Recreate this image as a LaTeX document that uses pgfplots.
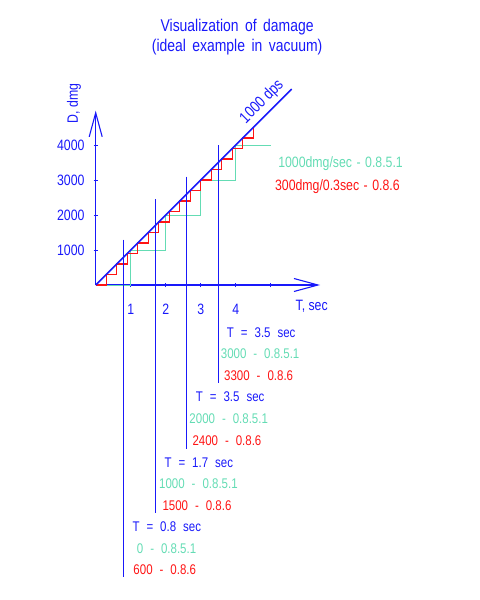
\documentclass[border=0pt]{standalone}
\usepackage{fontspec}
\setmainfont{Liberation Sans}[FakeStretch=0.82]
\usepackage{pgfplots}
\pgfplotsset{compat=1.18}
\usetikzlibrary{arrows.meta}

\definecolor{dblue}{RGB}{25,25,250}
\definecolor{dgreen}{RGB}{100,220,180}
\definecolor{dred}{RGB}{255,20,20}
% wider word spaces, like the drafting font of the original
\newcommand{\wsp}[1]{\spaceskip=#1\relax}

\begin{document}
\begin{tikzpicture}
\begin{axis}[
  x=35bp, y=0.035bp,
  xmin=0, xmax=6.41,
  ymin=0, ymax=4980,
  axis lines=middle,
  axis line style={draw=dblue, line width=1.1bp,
    -{Straight Barb[length=24bp, width=13bp, line width=1.1bp]}},
  clip=false,
  xtick={1,2,3,4,5}, xticklabels={1,2,3,4,},
  ytick={1000,2000,3000,4000}, yticklabels={1000,2000,3000,4000},
  scaled y ticks=false,
  major tick length=4bp, tick align=center,
  tick style={draw=dblue, line width=0.8bp},
  xticklabel style={anchor=center, yshift=-22bp, inner sep=0pt, text=dblue,
    font=\fontsize{15bp}{18bp}\selectfont},
  yticklabel style={anchor=east, xshift=-9bp, inner sep=0pt, text=dblue,
    font=\fontsize{15bp}{18bp}\selectfont},
]

% 0.8.5.1: 1000 dmg every second
\addplot[dgreen, line width=1bp] coordinates {
  (0,0) (1,0) (1,1000) (2,1000) (2,2000) (3,2000) (3,3000) (4,3000) (4,4000) (5,4000)};

% 0.8.6: 300 dmg every 0.3 sec
\addplot[dred, line width=1.1bp] coordinates {
  (0,0) (0.3,0) (0.3,300) (0.6,300) (0.6,600) (0.9,600) (0.9,900) (1.2,900)
  (1.2,1200) (1.5,1200) (1.5,1500) (1.8,1500) (1.8,1800) (2.1,1800) (2.1,2100)
  (2.4,2100) (2.4,2400) (2.7,2400) (2.7,2700) (3.0,2700) (3.0,3000) (3.3,3000)
  (3.3,3300) (3.6,3300) (3.6,3600) (3.9,3600) (3.9,3900) (4.2,3900) (4.2,4200)
  (4.5,4200) (4.5,4500)};

% ideal 1000 dps
\addplot[dblue, line width=1.5bp] coordinates {(0,0) (5.6,5600)};

% sample times
\addplot[dblue, line width=1.1bp] coordinates {(0.8,1300) (0.8,-8334)};
\addplot[dblue, line width=1.1bp] coordinates {(1.7,2450) (1.7,-6523)};
\addplot[dblue, line width=1.1bp] coordinates {(2.6,3100) (2.6,-4686)};
\addplot[dblue, line width=1.1bp] coordinates {(3.5,4000) (3.5,-2809)};

\node[align=center, text=dblue, font={\fontsize{17bp}{20bp}\selectfont\wsp{0.38em}}]
  at (axis cs:4.04,7086) {Visualization of damage\\(ideal example in vacuum)};

\node[rotate=90, text=dblue, font=\fontsize{15bp}{18bp}\selectfont]
  at (axis cs:-0.62,5191) {D, dmg};
\node[text=dblue, font=\fontsize{15bp}{18bp}\selectfont]
  at (axis cs:6.17,-620) {T, sec};

\node[rotate=45, anchor=south, inner sep=4bp, text=dblue, font=\fontsize{16bp}{19bp}\selectfont]
  at (axis cs:4.99,4990) {1000 dps};

\begin{scope}[every node/.style={anchor=west, inner sep=0pt,
    font={\fontsize{15bp}{18bp}\selectfont\wsp{0.3em}}}]
\node[text=dgreen] at (axis cs:5.21,3457) {1000dmg/sec - 0.8.5.1};
\node[text=dred] at (axis cs:5.12,2800) {300dmg/0.3sec - 0.8.6};
\end{scope}

\begin{scope}[every node/.style={anchor=west, inner sep=0pt,
    font={\fontsize{14bp}{17bp}\selectfont\wsp{0.5em}}}]
\node[text=dblue]  at (axis cs:3.743,-1363) {T = 3.5 sec};
\node[text=dgreen] at (axis cs:3.571,-1951) {3000 - 0.8.5.1};
\node[text=dred]   at (axis cs:3.666,-2600) {3300 - 0.8.6};
\node[text=dblue]  at (axis cs:2.857,-3191) {T = 3.5 sec};
\node[text=dgreen] at (axis cs:2.674,-3809) {2000 - 0.8.5.1};
\node[text=dred]   at (axis cs:2.760,-4449) {2400 - 0.8.6};
\node[text=dblue]  at (axis cs:1.960,-5066) {T = 1.7 sec};
\node[text=dgreen] at (axis cs:1.809,-5686) {1000 - 0.8.5.1};
\node[text=dred]   at (axis cs:1.903,-6314) {1500 - 0.8.6};
\node[text=dblue]  at (axis cs:1.046,-6906) {T = 0.8 sec};
\node[text=dgreen] at (axis cs:1.171,-7523) {0 - 0.8.5.1};
\node[text=dred]   at (axis cs:1.074,-8143) {600 - 0.8.6};
\end{scope}

\coordinate (O) at (axis cs:0,0);
\end{axis}
% page frame: 480 x 600 around the picture
\path (O) ++(-95.7bp,285bp) rectangle ++(480bp,-600bp);
\end{tikzpicture}
\end{document}
